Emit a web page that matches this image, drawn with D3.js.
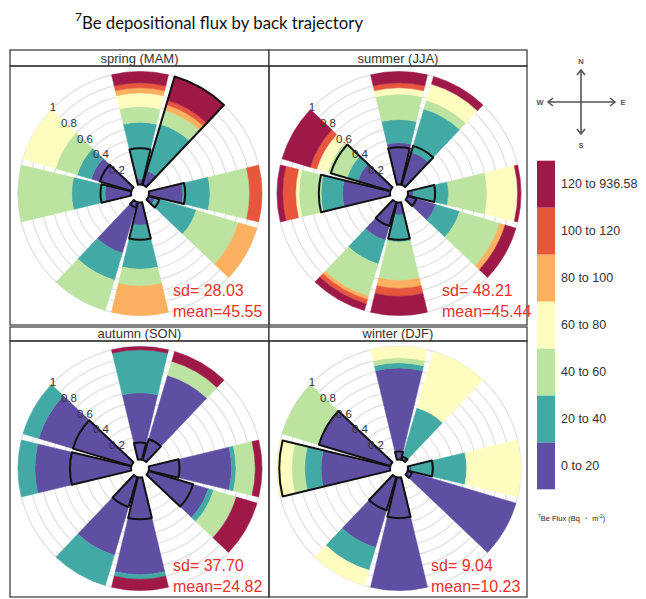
<!DOCTYPE html>
<html>
<head>
<meta charset="utf-8">
<script src="https://cdn.jsdelivr.net/npm/d3@7"></script>
<style>
  body { margin: 0; background: #fff; }
  svg { display: block; font-family: "Liberation Sans", Arial, sans-serif; }
</style>
</head>
<body>
<div id="wrapper"></div>
<script>
/* wind sectors (degrees, clockwise from N) and flux classes */
const directions = [0, 30, 60, 90, 120, 150, 180, 210, 240, 270, 300, 330];
const fluxBins = ["0 to 20", "20 to 40", "40 to 60", "60 to 80", "80 to 100", "100 to 120", "120 to 936.58"];
const binColors = ["#5e4fa2", "#43a9a5", "#bde3a1", "#fefdbf", "#fbb15f", "#e6573d", "#9e1848"];
const ringLabels = [0.2, 0.4, 0.6, 0.8, 1];
const gridRings = [0.1, 0.2, 0.3, 0.4, 0.5, 0.6, 0.7, 0.8, 0.9, 1];

const seasonNames = ["spring (MAM)", "summer (JJA)", "autumn (SON)", "winter (DJF)"];
const sdValues = ["28.03", "48.21", "37.70", "9.04"];
const meanValues = ["45.55", "45.44", "24.82", "10.23"];

/* cumulative proportion reached at the top of each flux class, per sector (null = no trajectories) */
const springCum = [
  [0.05, 0.55, 0.69, 0.81, 0.855, 0.90, 1],
  [0.13, 0.56, 0.69, 0.69, 0.74, 0.78, 1],
  null,
  [0.30, 0.54, 0.89, 0.89, 0.89, 1, 1],
  [0.06, 0.44, 0.83, 0.83, 1, 1, 1],
  null,
  [0.20, 0.59, 0.74, 0.74, 1, 1, 1],
  [0.47, 0.72, 1, 1, 1, 1, 1],
  null,
  [0.23, 0.525, 1, 1, 1, 1, 1],
  [0.37, 0.50, 0.70, 1, 1, 1, 1],
  null
];
const springFreq = [0.32, 1, null, 0.32, 0.10, null, 0.33, 0.05, null, 0.27, 0.29, null];

const summerCum = [
  [0.37, 0.575, 0.80, 0.855, 0.855, 0.90, 1],
  [0.30, 0.70, 0.78, 0.93, 0.93, 0.93, 1],
  null,
  [0.05, 0.36, 0.70, 0.97, 0.97, 0.97, 1],
  [0.26, 0.48, 0.85, 0.85, 0.90, 0.90, 1],
  null,
  [0.11, 0.35, 0.69, 0.69, 0.76, 0.83, 1],
  [0.35, 0.57, 0.87, 0.87, 0.90, 0.94, 1],
  null,
  [0.42, 0.61, 0.805, 0.835, 0.835, 0.95, 1],
  [0.30, 0.40, 0.58, 0.68, 0.68, 0.74, 1],
  null
];
const summerFreq = [0.33, 0.36, null, 0.24, 0.08, null, 0.33, 0.22, null, 0.63, 0.55, null];

const autumnCum = [
  [0.59, 0.97, 0.97, 0.97, 0.97, 0.97, 1],
  [0.78, 0.78, 0.91, 0.91, 0.91, 0.91, 1],
  null,
  [0.73, 0.77, 0.94, 0.94, 0.94, 0.94, 1],
  [0.55, 0.60, 0.81, 0.81, 0.81, 0.81, 1],
  null,
  [0.86, 0.90, 0.90, 0.90, 0.90, 0.90, 1],
  [0.72, 1, 1, 1, 1, 1, 1],
  null,
  [0.85, 1, 1, 1, 1, 1, 1],
  [0.855, 1, 1, 1, 1, 1, 1],
  null
];
const autumnFreq = [0.15, 0.19, null, 0.27, 0.41, null, 0.37, 0.275, null, 0.54, 0.54, null];

const winterCum = [
  [0.81, 0.855, 0.90, 1, 1, 1, 1],
  [0.03, 0.48, 0.48, 1, 1, 1, 1],
  null,
  [0.03, 0.52, 0.52, 1, 1, 1, 1],
  [1, 1, 1, 1, 1, 1, 1],
  null,
  [1, 1, 1, 1, 1, 1, 1],
  [0.65, 0.86, 0.86, 1, 1, 1, 1],
  null,
  [0.61, 0.755, 0.87, 1, 1, 1, 1],
  [0.66, 0.66, 1, 1, 1, 1, 1],
  null
];
const winterFreq = [0.07, 0.03, null, 0.22, 0.04, null, 0.36, 0.305, null, 0.98, 0.66, null];

const seasonCum = [springCum, summerCum, autumnCum, winterCum];
const seasonFreq = [springFreq, summerFreq, autumnFreq, winterFreq];

var width = 646, height = 599;
var svg = d3.select("#wrapper").append("svg")
    .attr("width", width)
    .attr("height", height);

/* title */
var title = svg.append("text")
    .attr("x", 75).attr("y", 29)
    .style("font-family", "Lato, 'Open Sans', sans-serif")
    .style("font-size", "20px")
    .attr("fill", "#111");
title.append("tspan").attr("font-size", "12px").attr("dy", -8).text("7");
title.append("tspan").attr("dy", 8).text("Be depositional flux by back trajectory");
var tw = title.node().getComputedTextLength();
title.style("font-size", (20 * 287 / tw) + "px");

/* panel grid */
var cols = [10, 269, 527];
var rows = [{top: 50, strip: 66, bottom: 325}, {top: 327, strip: 341, bottom: 597}];

var r0 = 9, R = 122;
var rScale = d3.scaleLinear().domain([0, 1]).range([r0, R]);
var half = 13.5 * Math.PI / 180;
var arc = d3.arc();

function drawPanel(i) {
    var col = i % 2, row = rows[Math.floor(i / 2)];
    var x0 = cols[col], x1 = cols[col + 1];
    var cx = x0 + 130, cy = row.strip + 127.5;

    var g = svg.append("g");

    // strip
    g.append("rect")
        .attr("x", x0).attr("y", row.top)
        .attr("width", x1 - x0).attr("height", row.strip - row.top)
        .attr("fill", "#fff").attr("stroke", "#333").attr("stroke-width", 1.2);
    g.append("text")
        .attr("x", (x0 + x1) / 2).attr("y", row.strip - 3.5)
        .attr("text-anchor", "middle")
        .attr("font-size", "13px").attr("fill", "#333")
        .text(seasonNames[i]);
    g.append("rect")
        .attr("x", x0).attr("y", row.strip)
        .attr("width", x1 - x0).attr("height", row.bottom - row.strip)
        .attr("fill", "none").attr("stroke", "#333").attr("stroke-width", 1.2);

    var p = g.append("g").attr("transform", "translate(" + cx + "," + cy + ")");

    // grid rings
    p.selectAll("circle.grid")
        .data(gridRings)
        .enter()
        .append("circle")
        .attr("r", function(d) { return rScale(d); })
        .attr("fill", "none")
        .attr("stroke", "#e2e2e2")
        .attr("stroke-width", 1.3);

    // stacked wedges
    var segs = [];
    seasonCum[i].forEach(function(cum, k) {
        if (!cum) return;
        var a = directions[k] * Math.PI / 180;
        cum.forEach(function(top, b) {
            var bottom = b === 0 ? 0 : cum[b - 1];
            if (top > bottom) segs.push({a: a, lo: bottom, hi: top, bin: b});
        });
    });
    p.selectAll("path.seg")
        .data(segs)
        .enter()
        .append("path")
        .attr("d", function(d) {
            return arc({innerRadius: rScale(d.lo), outerRadius: rScale(d.hi),
                        startAngle: d.a - half, endAngle: d.a + half});
        })
        .attr("fill", function(d) { return binColors[d.bin]; })
        .attr("stroke", function(d) { return binColors[d.bin]; })
        .attr("stroke-width", 0.5);

    // frequency outlines
    var freqs = [];
    seasonFreq[i].forEach(function(f, k) {
        if (f != null) freqs.push({a: directions[k] * Math.PI / 180, f: f});
    });
    p.selectAll("path.freq")
        .data(freqs)
        .enter()
        .append("path")
        .attr("d", function(d) {
            return arc({innerRadius: rScale(0), outerRadius: rScale(d.f),
                        startAngle: d.a - half, endAngle: d.a + half});
        })
        .attr("fill", "none")
        .attr("stroke", "#111")
        .attr("stroke-width", 2)
        .attr("stroke-linejoin", "round");

    // radial labels
    var la = -45 * Math.PI / 180;
    p.selectAll("text.rl")
        .data(ringLabels)
        .enter()
        .append("text")
        .attr("x", function(d) { return (rScale(d) + 1) * Math.sin(la); })
        .attr("y", function(d) { return -(rScale(d) + 1) * Math.cos(la); })
        .attr("text-anchor", "middle")
        .attr("dominant-baseline", "central")
        .attr("font-size", "11.5px")
        .attr("fill", "#333")
        .text(function(d) { return d; });

    // stats
    var sx = [173, 442, 173, 431][i];
    var sy = row.bottom - (row === rows[0] ? 29 : 26);
    g.append("text")
        .attr("x", sx).attr("y", sy)
        .attr("font-size", "16px").attr("fill", "#e8322e")
        .text("sd= " + sdValues[i]);
    g.append("text")
        .attr("x", sx).attr("y", sy + 20.5)
        .attr("font-size", "16px").attr("fill", "#e8322e")
        .text("mean=" + meanValues[i]);
}

for (var i = 0; i < 4; i++) drawPanel(i);

/* compass */
var comp = svg.append("g").attr("stroke", "#555").attr("stroke-width", 1.6).attr("fill", "none");
var ccx = 581, ccy = 102;
comp.append("line").attr("x1", ccx).attr("y1", 70).attr("x2", ccx).attr("y2", 134);
comp.append("line").attr("x1", 548).attr("y1", ccy).attr("x2", 615).attr("y2", ccy);
comp.append("polyline").attr("points", [[ccx - 4, 75], [ccx, 70], [ccx + 4, 75]].join(" "));
comp.append("polyline").attr("points", [[ccx - 4, 129], [ccx, 134], [ccx + 4, 129]].join(" "));
comp.append("polyline").attr("points", [[553, ccy - 4], [548, ccy], [553, ccy + 4]].join(" "));
comp.append("polyline").attr("points", [[610, ccy - 4], [615, ccy], [610, ccy + 4]].join(" "));
var compLabels = [["N", ccx, 61], ["S", ccx, 145], ["W", 540, ccy], ["E", 623, ccy]];
svg.selectAll("text.compass")
    .data(compLabels)
    .enter()
    .append("text")
    .attr("x", function(d) { return d[1]; })
    .attr("y", function(d) { return d[2]; })
    .attr("text-anchor", "middle")
    .attr("dominant-baseline", "central")
    .attr("font-size", "7.5px")
    .attr("font-weight", "bold")
    .attr("fill", "#555")
    .text(function(d) { return d[0]; });

/* legend */
var legY = d3.scaleBand()
    .domain(fluxBins.slice().reverse())
    .range([160.7, 489.3]);
var leg = svg.append("g");
leg.selectAll("rect")
    .data(fluxBins)
    .enter()
    .append("rect")
    .attr("x", 537).attr("width", 18)
    .attr("y", function(d) { return legY(d); })
    .attr("height", legY.bandwidth())
    .attr("fill", function(d, i) { return binColors[i]; });
leg.selectAll("text")
    .data(fluxBins)
    .enter()
    .append("text")
    .attr("x", 561)
    .attr("y", function(d) { return legY(d) + legY.bandwidth() / 2; })
    .attr("dominant-baseline", "central")
    .attr("font-size", "12.5px")
    .attr("fill", "#333")
    .text(function(d) { return d; });

var cap = svg.append("text")
    .attr("x", 538).attr("y", 521)
    .attr("font-size", "7.5px")
    .attr("fill", "#222");
cap.append("tspan").attr("font-size", "5px").attr("dy", -3).text("7");
cap.append("tspan").attr("dy", 3).text("Be Flux (Bq \u30FB m");
cap.append("tspan").attr("font-size", "5px").attr("dy", -3).text("-2");
cap.append("tspan").attr("dy", 3).text(")");
</script>
</body>
</html>
